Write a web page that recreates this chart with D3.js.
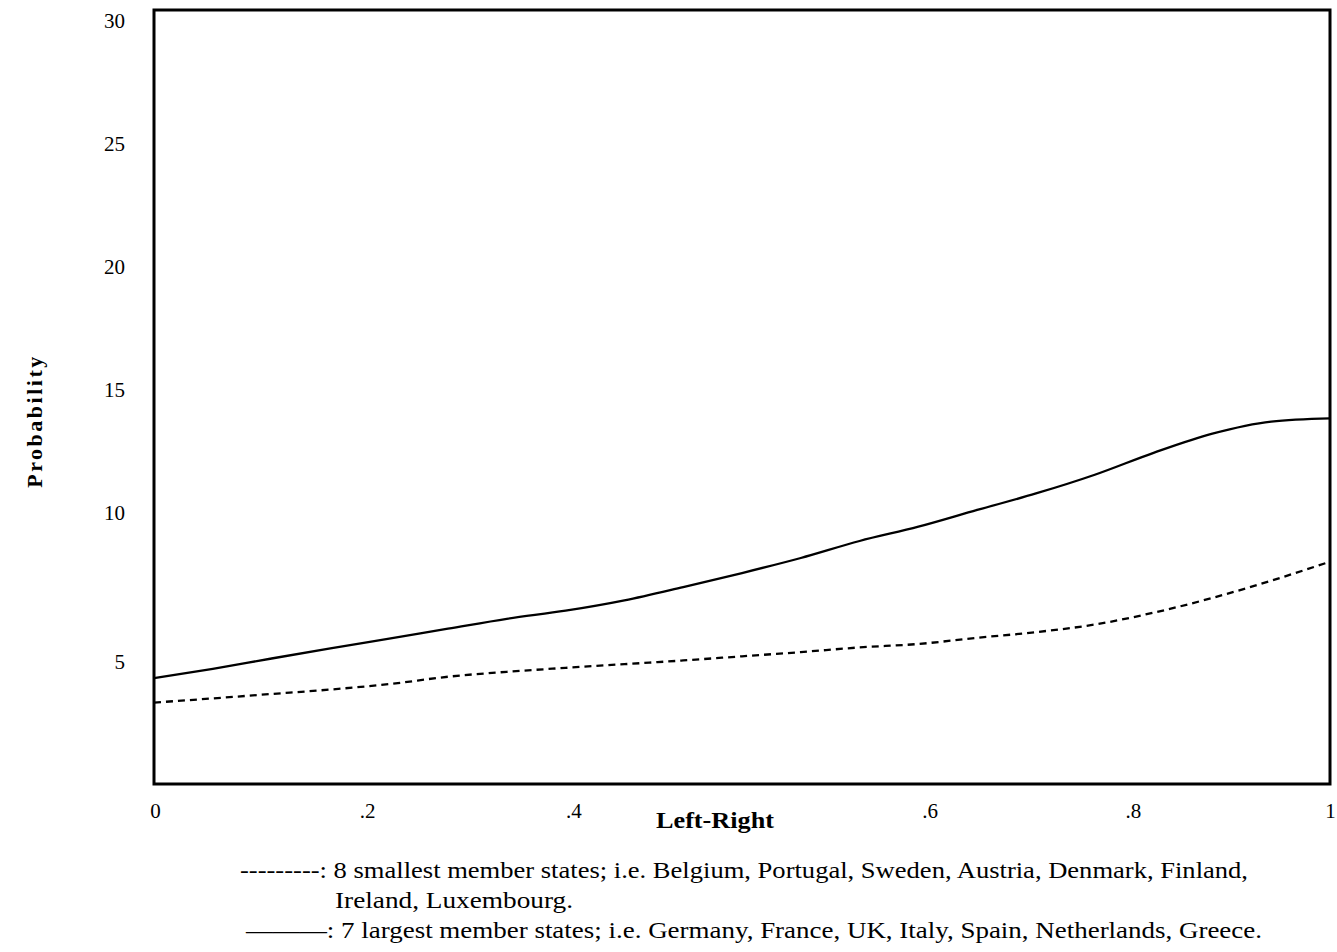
<!DOCTYPE html>
<html>
<head>
<meta charset="utf-8">
<script src="https://cdn.jsdelivr.net/npm/d3@7"></script>
<style>
  html, body { margin: 0; padding: 0; background: #fff; }
  svg { display: block; }
  text { font-family: "Liberation Serif", "Times New Roman", serif; fill: #000; }
</style>
</head>
<body>
<script>
// ---------- data ----------
const xGrid = [0, 0.05, 0.10, 0.15, 0.20, 0.25, 0.30, 0.35, 0.40, 0.45, 0.50,
               0.55, 0.60, 0.65, 0.70, 0.75, 0.80, 0.85, 0.90, 0.95, 1.00];
const largestStates = [3.28, 3.66, 4.08, 4.49, 4.89, 5.29, 5.69, 6.02, 6.44, 6.98, 7.55,
                       8.16, 8.85, 9.43, 10.11, 10.78, 11.54, 12.43, 13.21, 13.70, 13.83];
const smallestStates = [2.29, 2.46, 2.64, 2.82, 3.04, 3.34, 3.54, 3.70, 3.85, 4.00, 4.17,
                        4.34, 4.53, 4.67, 4.92, 5.15, 5.46, 5.94, 6.54, 7.24, 8.01];
const yTickValues = [5, 10, 15, 20, 25, 30];
const xTickValues = [0, 0.2, 0.4, 0.6, 0.8, 1];
const xTickLabels = ["0", ".2", ".4", ".6", ".8", "1"];
const xTitle = "Left-Right";
const yTitle = "Probability";
const legendLines = [
  "---------: 8 smallest member states; i.e. Belgium, Portugal, Sweden, Austria, Denmark, Finland,",
  "Ireland, Luxembourg.",
  "———: 7 largest member states; i.e. Germany, France, UK, Italy, Spain, Netherlands, Greece."
];

// ---------- layout (not data) ----------
const W = 1337, H = 952;
const frame = { left: 154, right: 1330, top: 10, bottom: 784 };
const xLabelNudge = [1, -22, -51, 70, 38, 0];   // printed tick labels are displaced in the original
const yLabelNudge = { 5: 26 };
const legendLayout = [
  { x: 240, y: 878, w: 1008 },
  { x: 335, y: 908, w: 238 },
  { x: 246, y: 938, w: 1016 }
];

const svg = d3.select("body").append("svg").attr("width", W).attr("height", H);

const x = d3.scaleLinear().domain([0, 1]).range([frame.left, frame.right]);
const y = d3.scaleLinear().domain([0, 30]).range([759, 20]);

// frame
svg.append("rect")
  .attr("x", frame.left).attr("y", frame.top)
  .attr("width", frame.right - frame.left).attr("height", frame.bottom - frame.top)
  .attr("fill", "none").attr("stroke", "#000").attr("stroke-width", 3);

// lines
const line = d3.line().x((d, i) => x(xGrid[i])).y(d => y(d)).curve(d3.curveMonotoneX);

svg.append("path").datum(smallestStates)
  .attr("d", line).attr("fill", "none").attr("stroke", "#000")
  .attr("stroke-width", 2.3).attr("stroke-dasharray", "7,5");

svg.append("path").datum(largestStates)
  .attr("d", line).attr("fill", "none").attr("stroke", "#000")
  .attr("stroke-width", 2.3);

// y axis
const gy = svg.append("g").attr("transform", `translate(${frame.left},0)`)
  .call(d3.axisLeft(y).tickValues(yTickValues).tickSize(0).tickPadding(29).tickFormat(d3.format("d")));
gy.select(".domain").remove();
gy.selectAll("text")
  .style("font-family", '"Liberation Serif", "Times New Roman", serif')
  .style("font-size", "21px")
  .attr("dy", "0.34em")
  .attr("transform", d => yLabelNudge[d] ? `translate(0,${yLabelNudge[d]})` : null);

// x axis
const gx = svg.append("g").attr("transform", `translate(0,${frame.bottom})`)
  .call(d3.axisBottom(x).tickValues(xTickValues).tickSize(0).tickPadding(19)
    .tickFormat((d, i) => xTickLabels[i]));
gx.select(".domain").remove();
gx.selectAll("text")
  .style("font-family", '"Liberation Serif", "Times New Roman", serif')
  .style("font-size", "21px")
  .attr("transform", (d, i) => `translate(${xLabelNudge[i]},0)`);

// axis titles
svg.append("text")
  .attr("x", 715).attr("y", 828)
  .attr("text-anchor", "middle")
  .attr("textLength", 118).attr("lengthAdjust", "spacingAndGlyphs")
  .style("font-size", "23px").style("font-weight", "bold")
  .text(xTitle);

svg.append("text")
  .attr("transform", "translate(42,421) rotate(-90)")
  .attr("text-anchor", "middle")
  .style("font-size", "22px").style("font-weight", "bold")
  .style("letter-spacing", "2.5px")
  .text(yTitle);

// legend notes
legendLines.forEach((t, i) => {
  const L = legendLayout[i];
  svg.append("text")
    .attr("x", L.x).attr("y", L.y)
    .attr("textLength", L.w).attr("lengthAdjust", "spacingAndGlyphs")
    .style("font-size", "23px")
    .text(t);
});
</script>
</body>
</html>
